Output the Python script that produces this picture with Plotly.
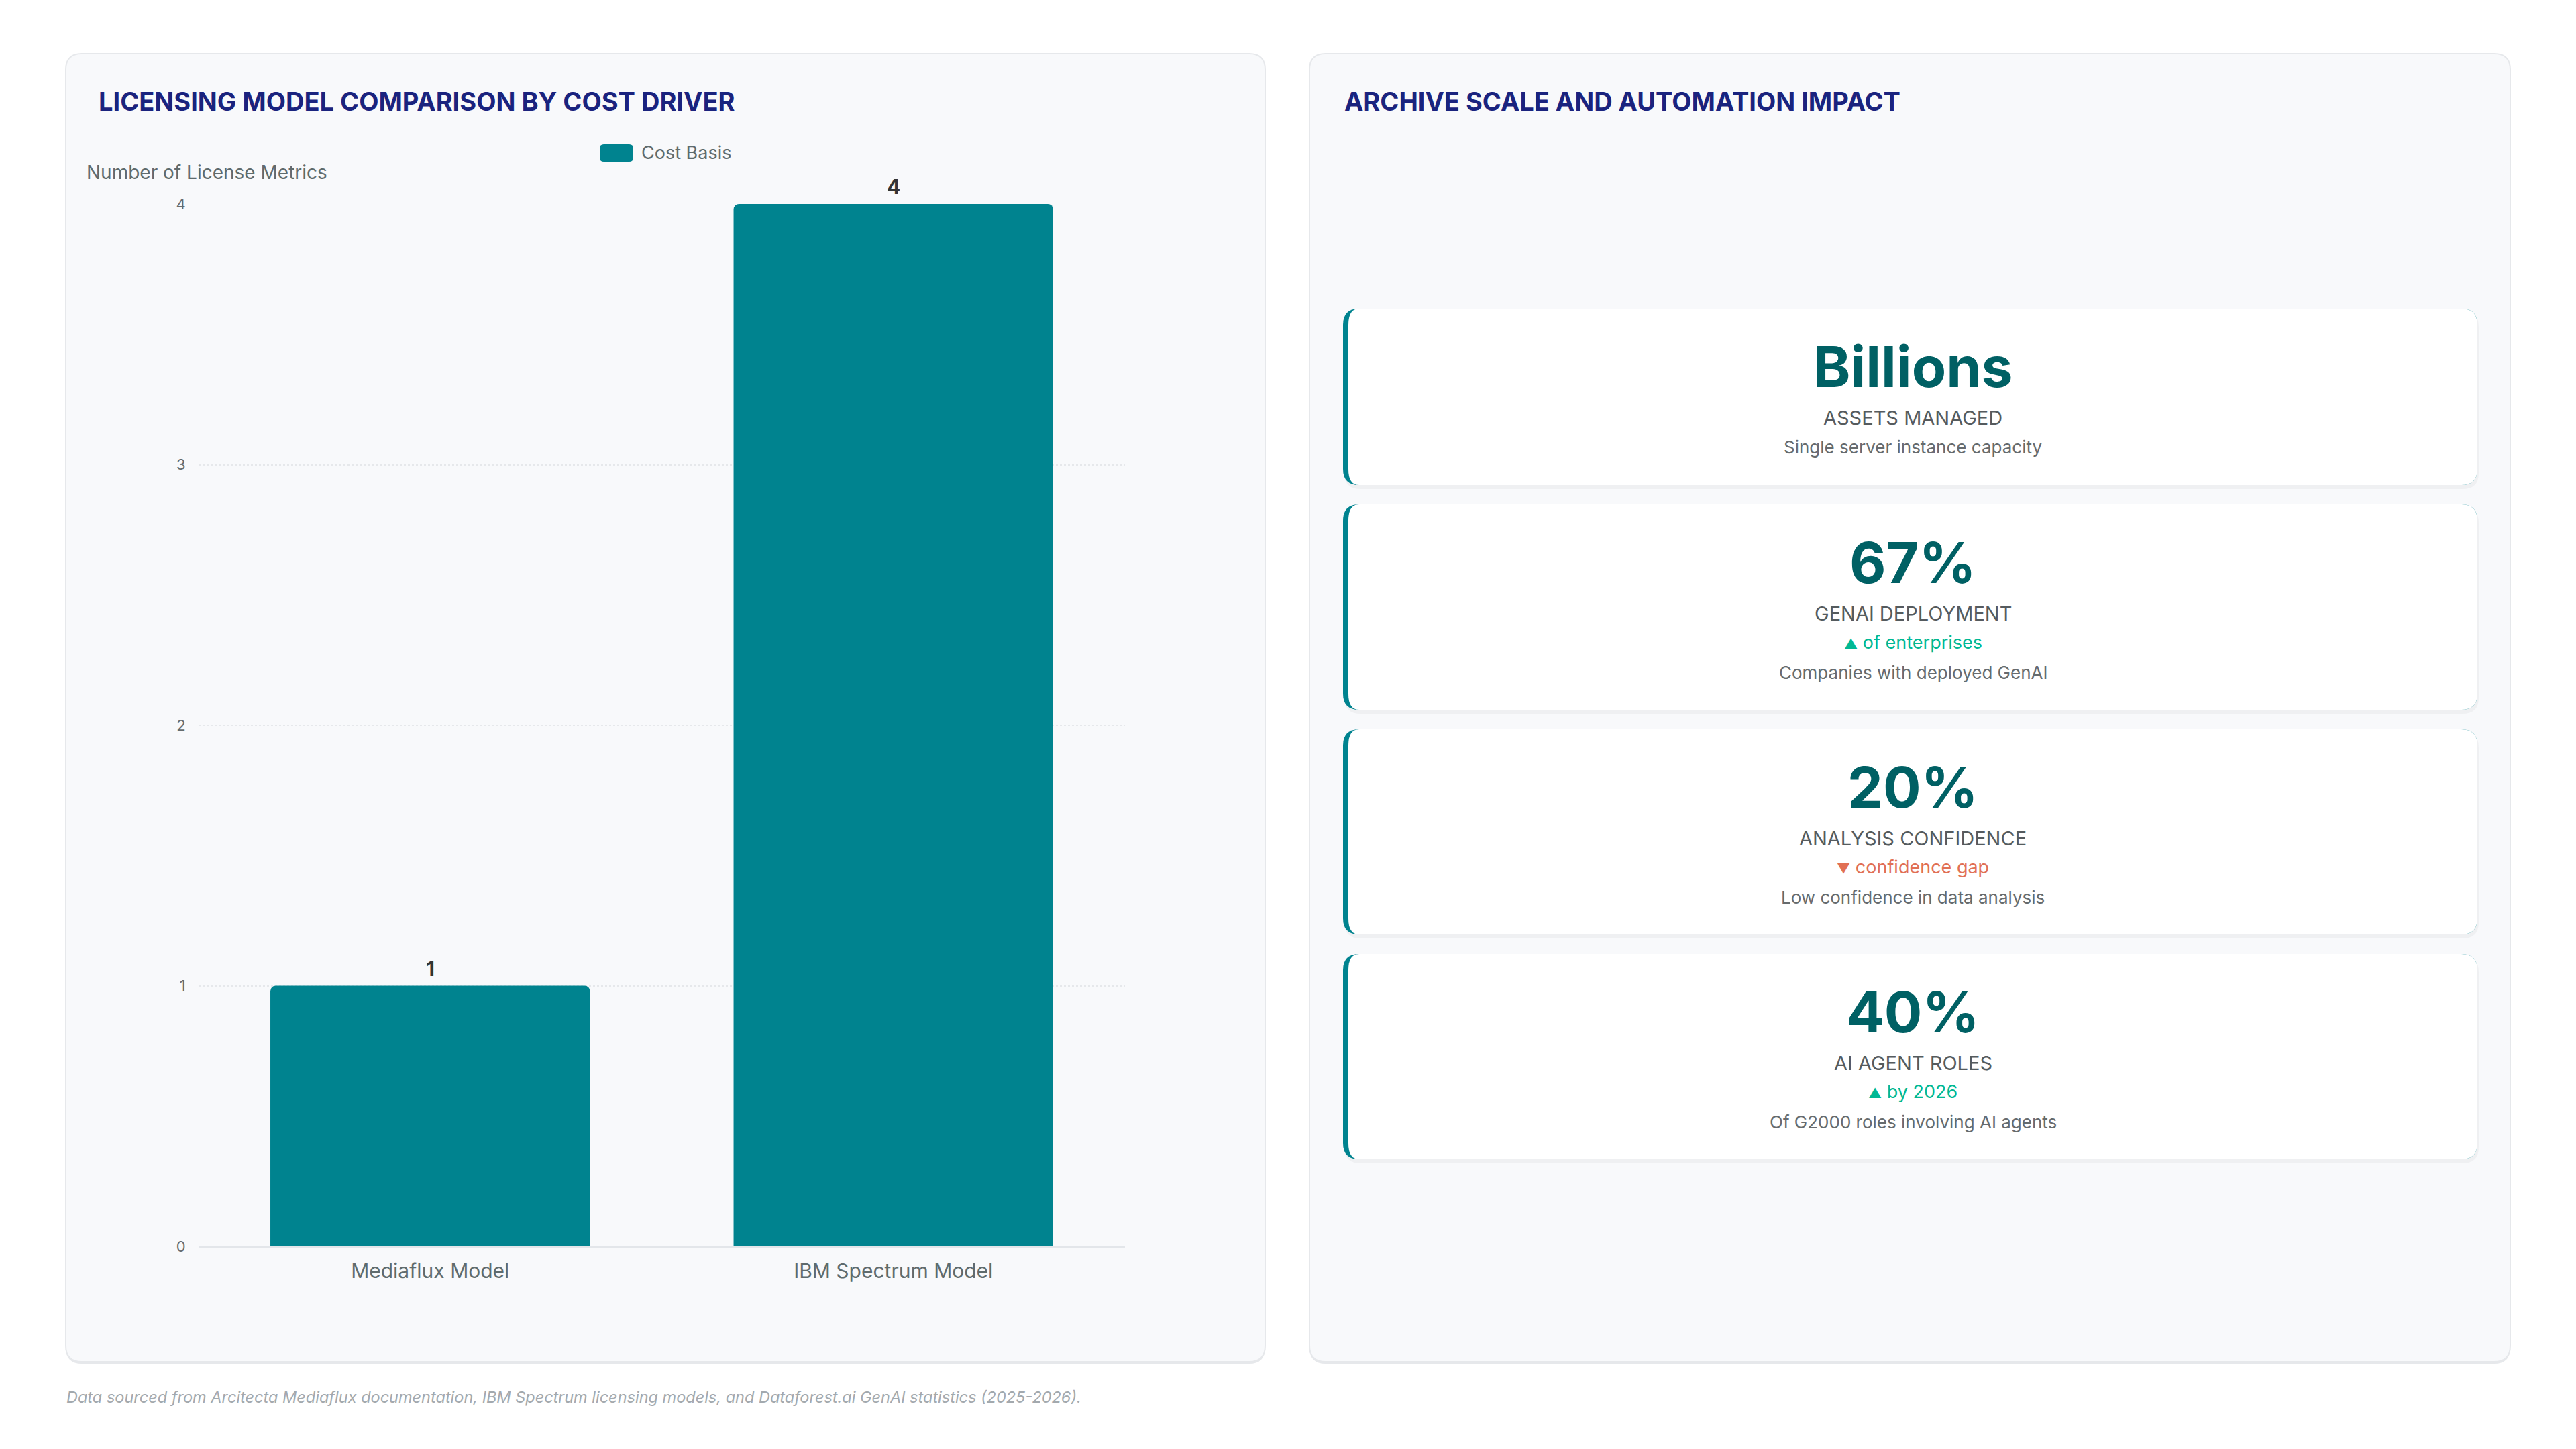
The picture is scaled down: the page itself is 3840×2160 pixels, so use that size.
import plotly.graph_objects as go

# Dados do gráfico de barras
categories = ['Mediaflux Model', 'IBM Spectrum Model']
cost_basis = [1, 4]
series_name = 'Cost Basis'

# Dados dos cartões de KPI
kpi_values = ['Billions', '67%', '20%', '40%']
kpi_labels = ['ASSETS MANAGED', 'GENAI DEPLOYMENT', 'ANALYSIS CONFIDENCE', 'AI AGENT ROLES']
kpi_deltas = [None, 'of enterprises', 'confidence gap', 'by 2026']
kpi_delta_dirs = [None, 'up', 'down', 'up']
kpi_descs = ['Single server instance capacity', 'Companies with deployed GenAI',
             'Low confidence in data analysis', 'Of G2000 roles involving AI agents']

W, H = 3840, 2160
FONT = 'Inter, Noto Sans, sans-serif'
TEAL = '#00838f'
NAVY = '#1a237e'


def px(x):
    return x / W


def py(y):
    return 1 - y / H


def rounded_path(x0, y0, x1, y1, r, inset_left=0):
    # retângulo arredondado em pixels (origem no topo) convertido para paper
    pts = [
        ('M', [(x0 + r, y0)]),
        ('L', [(x1 - r, y0)]),
        ('Q', [(x1, y0), (x1, y0 + r)]),
        ('L', [(x1, y1 - r)]),
        ('Q', [(x1, y1), (x1 - r, y1)]),
        ('L', [(x0 + r, y1)]),
        ('Q', [(x0 + inset_left, y1), (x0 + inset_left, y1 - r)]),
        ('L', [(x0 + inset_left, y0 + r)]),
        ('Q', [(x0 + inset_left, y0), (x0 + r, y0)]),
    ]
    s = ''
    for cmd, coords in pts:
        s += cmd + ' ' + ' '.join(f'{px(a):.6f},{py(b):.6f}' for a, b in coords) + ' '
    return s + 'Z'


shapes = []
annotations = []

# Painéis
for x0, x1 in [(98, 1886), (1952, 3742)]:
    shapes.append(dict(type='path', xref='paper', yref='paper', layer='below',
                       path=rounded_path(x0, 83, x1, 2033, 24),
                       fillcolor='#e6e8eb', line=dict(width=0)))
    shapes.append(dict(type='path', xref='paper', yref='paper', layer='below',
                       path=rounded_path(x0, 80, x1, 2030, 24),
                       fillcolor='#f8f9fb', line=dict(color='#e6e8eb', width=2)))

# Títulos
annotations.append(dict(x=px(145), y=py(151), xref='paper', yref='paper', xanchor='left', yanchor='middle',
                        text='<b>LICENSING MODEL COMPARISON BY COST DRIVER</b>', showarrow=False,
                        font=dict(family=FONT, size=38, color=NAVY)))
annotations.append(dict(x=px(2002), y=py(151), xref='paper', yref='paper', xanchor='left', yanchor='middle',
                        text='<b>ARCHIVE SCALE AND AUTOMATION IMPACT</b>', showarrow=False,
                        font=dict(family=FONT, size=38, color=NAVY)))

# Legenda
shapes.append(dict(type='path', xref='paper', yref='paper',
                   path=rounded_path(894, 215, 944, 241, 6),
                   fillcolor=TEAL, line=dict(width=0)))
annotations.append(dict(x=px(954), y=py(228), xref='paper', yref='paper', xanchor='left', yanchor='middle',
                        text=series_name, showarrow=False,
                        font=dict(family=FONT, size=27, color='#5f6b6d')))

# Título do eixo Y
annotations.append(dict(x=px(490), y=py(257), xref='paper', yref='paper', xanchor='right', yanchor='middle',
                        text='Number of License Metrics', showarrow=False,
                        font=dict(family=FONT, size=28, color='#5f6b6d')))

# Rótulos de valor
for c, v in zip(categories, cost_basis):
    annotations.append(dict(x=c, y=v, xref='x', yref='y', xanchor='center', yanchor='bottom', yshift=6,
                            text=f'<b>{v}</b>', showarrow=False,
                            font=dict(family=FONT, size=30, color='#333333')))

# Cartões de KPI
card_x0, card_x1 = 2002, 3693
cx = (card_x0 + 8 + card_x1) / 2
top = 460
for val, lab, delta, d, desc in zip(kpi_values, kpi_labels, kpi_deltas, kpi_delta_dirs, kpi_descs):
    h = 306 if delta else 263
    bottom = top + h
    shapes.append(dict(type='path', xref='paper', yref='paper',
                       path=rounded_path(card_x0 + 2, top + 3, card_x1 + 2, bottom + 6, 24),
                       fillcolor='rgba(0,0,0,0.035)', line=dict(width=0)))
    shapes.append(dict(type='path', xref='paper', yref='paper',
                       path=rounded_path(card_x0, top, card_x1, bottom, 24),
                       fillcolor=TEAL, line=dict(width=0)))
    shapes.append(dict(type='path', xref='paper', yref='paper',
                       path=rounded_path(card_x0, top, card_x1, bottom, 24, inset_left=8),
                       fillcolor='#ffffff', line=dict(width=0)))
    annotations.append(dict(x=px(cx), y=py(top + 86), xref='paper', yref='paper', xanchor='center',
                            yanchor='middle', text=f'<b>{val}</b>', showarrow=False,
                            font=dict(family=FONT, size=84, color='#006064')))
    annotations.append(dict(x=px(cx), y=py(top + 162), xref='paper', yref='paper', xanchor='center',
                            yanchor='middle', text=lab, showarrow=False,
                            font=dict(family=FONT, size=29, color='#555b5e')))
    desc_y = top + 207
    if delta:
        arrow = '▲' if d == 'up' else '▼'
        col = '#00b894' if d == 'up' else '#e17055'
        annotations.append(dict(x=px(cx), y=py(top + 205), xref='paper', yref='paper', xanchor='center',
                                yanchor='middle', text=f'<span style="font-size:20px">{arrow}</span> {delta}',
                                showarrow=False, font=dict(family=FONT, size=27, color=col)))
        desc_y = top + 250
    annotations.append(dict(x=px(cx), y=py(desc_y), xref='paper', yref='paper', xanchor='center',
                            yanchor='middle', text=desc, showarrow=False,
                            font=dict(family=FONT, size=26, color='#666b6e')))
    top = bottom + 29

# Nota de rodapé
annotations.append(dict(x=px(97), y=py(2082), xref='paper', yref='paper', xanchor='left', yanchor='middle',
                        text='<i>Data sourced from Arcitecta Mediaflux documentation, IBM Spectrum licensing models, '
                             'and Dataforest.ai GenAI statistics (2025-2026).</i>',
                        showarrow=False, font=dict(family=FONT, size=23.5, color='#a3a9ae')))

fig = go.Figure(go.Bar(x=categories, y=cost_basis, name=series_name, marker_color=TEAL,
                       marker_line_width=0, marker_cornerradius=8, showlegend=False,
                       hoverinfo='x+y'))

fig.update_layout(
    width=W, height=H,
    margin=dict(l=0, r=0, t=0, b=0, pad=0, autoexpand=False),
    paper_bgcolor='#ffffff', plot_bgcolor='rgba(0,0,0,0)',
    font=dict(family=FONT),
    bargap=0.31,
    shapes=shapes, annotations=annotations,
    xaxis=dict(domain=[px(296), px(1677)], showgrid=False, showline=True, linecolor='#e3e6ea', linewidth=3,
               ticks='outside', ticklen=8, tickcolor='rgba(0,0,0,0)', automargin=False,
               tickfont=dict(size=30, color='#5f6b6d', family=FONT), fixedrange=True),
    yaxis=dict(domain=[py(1858), py(304)], range=[0, 4], dtick=1, showgrid=True, gridcolor='#e6e8eb',
               griddash='dot', gridwidth=2, zeroline=False, showline=False, automargin=False,
               ticks='outside', ticklen=14, tickcolor='rgba(0,0,0,0)',
               tickfont=dict(size=22, color='#666b6e', family=FONT), fixedrange=True),
)

# sem margem da página, para a figura ocupar a janela exatamente
fig.write_html('out.html', config={'displayModeBar': False},
               post_script="document.body.style.margin='0';document.body.style.overflow='hidden';")
